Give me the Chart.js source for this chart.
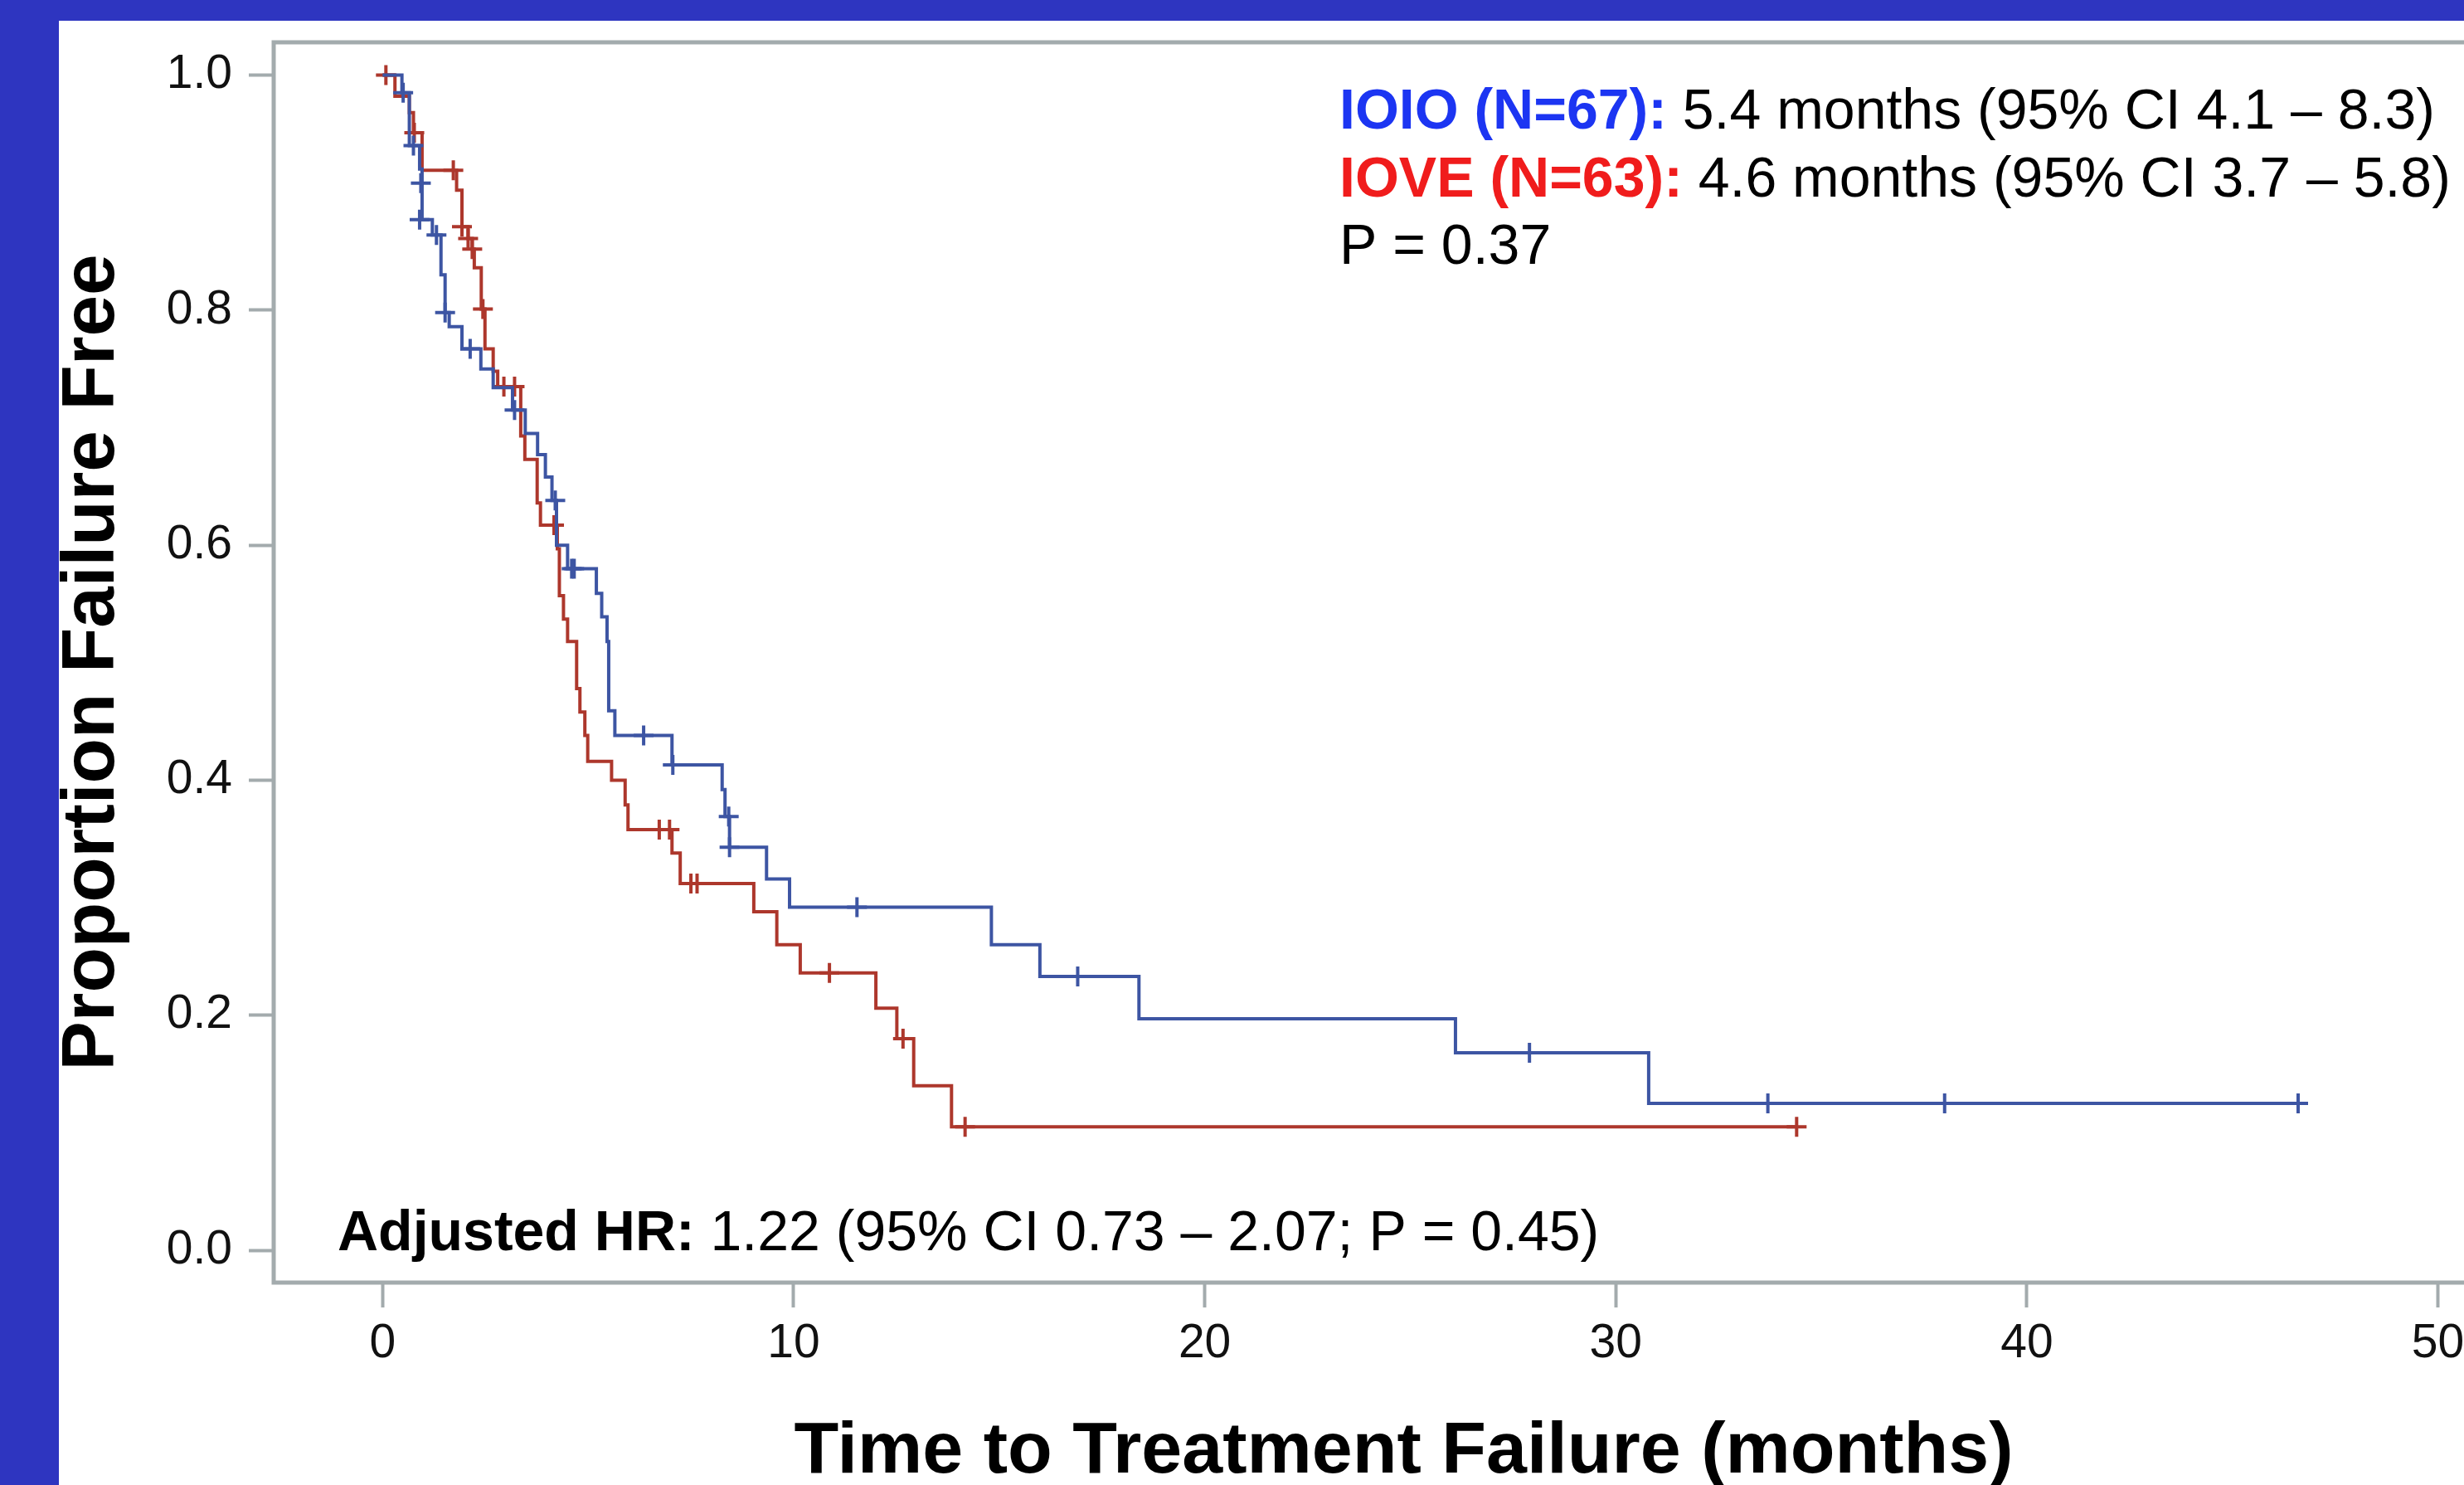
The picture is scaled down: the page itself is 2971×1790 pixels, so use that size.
<!DOCTYPE html>
<html>
<head>
<meta charset="utf-8">
<script src="https://cdn.jsdelivr.net/npm/chart.js@4.4.1/dist/chart.umd.min.js"></script>
<style>
  html, body { margin: 0; padding: 0; width: 2971px; height: 1790px; overflow: hidden; background: #2e35c0; }
  #panel { position: absolute; left: 71px; top: 25px; width: 3000px; height: 1765px; background: #fff; }
  canvas { display: block; }
</style>
</head>
<body>
<div id="panel"><canvas id="km" width="3000" height="1765"></canvas></div>
<script>
// IOIO arm (blue): step times in months and proportion failure free after each step
const ioioTimes = [0, 0.47, 0.65, 0.90, 0.96, 1.21, 1.42, 1.52, 1.62, 1.93, 2.39, 2.69, 3.16, 3.47, 3.77, 3.96, 4.12, 4.23, 4.50, 5.20, 5.33, 5.46, 5.50, 5.65, 7.04, 8.26, 8.33, 8.44, 9.34, 9.90, 14.81, 15.99, 18.40, 26.10, 30.80, 46.60];
const ioioSurv = [1.000, 0.985, 0.940, 0.920, 0.877, 0.864, 0.830, 0.798, 0.786, 0.767, 0.750, 0.734, 0.715, 0.695, 0.677, 0.658, 0.638, 0.600, 0.580, 0.559, 0.539, 0.518, 0.459, 0.438, 0.413, 0.392, 0.369, 0.343, 0.316, 0.292, 0.260, 0.233, 0.197, 0.168, 0.125, 0.125];
// IOIO censored observations
const ioioCensorTimes = [0.50, 0.75, 0.93, 0.90, 1.31, 1.52, 2.13, 3.21, 4.20, 4.60, 4.66, 6.35, 7.06, 8.42, 8.44, 11.54, 16.91, 27.90, 33.70, 38.00, 46.60];
const ioioCensorSurv = [0.985, 0.940, 0.908, 0.877, 0.864, 0.798, 0.767, 0.715, 0.638, 0.580, 0.580, 0.438, 0.413, 0.369, 0.343, 0.292, 0.233, 0.168, 0.125, 0.125, 0.125];

// IOVE arm (red)
const ioveTimes = [0, 0.30, 0.65, 0.75, 0.96, 1.80, 1.93, 2.08, 2.18, 2.23, 2.40, 2.49, 2.69, 2.80, 3.36, 3.46, 3.76, 3.84, 4.25, 4.30, 4.40, 4.50, 4.72, 4.80, 4.92, 4.99, 5.57, 5.90, 5.97, 7.04, 7.24, 9.03, 9.59, 10.16, 12.00, 12.51, 12.92, 13.84, 34.40];
const ioveSurv = [1.000, 0.982, 0.968, 0.951, 0.919, 0.902, 0.871, 0.861, 0.852, 0.836, 0.801, 0.767, 0.748, 0.735, 0.693, 0.673, 0.636, 0.617, 0.597, 0.557, 0.537, 0.518, 0.478, 0.458, 0.438, 0.416, 0.400, 0.379, 0.358, 0.338, 0.312, 0.288, 0.260, 0.236, 0.206, 0.180, 0.140, 0.105, 0.105];
const ioveCensorTimes = [0.08, 0.77, 1.72, 1.93, 2.08, 2.18, 2.44, 2.95, 3.21, 4.17, 6.73, 6.98, 7.50, 7.65, 10.87, 12.66, 14.17, 34.40];
const ioveCensorSurv = [1.000, 0.951, 0.919, 0.871, 0.861, 0.852, 0.801, 0.735, 0.735, 0.617, 0.358, 0.358, 0.312, 0.312, 0.236, 0.180, 0.105, 0.105];

const xTickValues = [0, 10, 20, 30, 40, 50];
const xTickLabels = ['0', '10', '20', '30', '40', '50'];
const yTickValues = [0, 0.2, 0.4, 0.6, 0.8, 1.0];
const yTickLabels = ['0.0', '0.2', '0.4', '0.6', '0.8', '1.0'];

const family = "'Liberation Sans', Arial, Helvetica, sans-serif";
const blueLine = '#3d55a3';
const redLine = '#ad372c';
const axisGrey = '#a3abad';

const pts = (xs, ys) => xs.map((t, i) => ({ x: t, y: ys[i] }));

// box round the plot area
const frame = {
  id: 'frame',
  beforeDatasetsDraw(chart) {
    const { ctx, chartArea: a } = chart;
    ctx.save();
    ctx.strokeStyle = axisGrey;
    ctx.lineWidth = 5;
    ctx.strokeRect(a.left, a.top, a.right - a.left, a.bottom - a.top);
    ctx.restore();
  }
};

// medians, p value and hazard ratio text
const notes = {
  id: 'notes',
  afterDraw(chart) {
    const ctx = chart.ctx;
    ctx.save();
    ctx.textBaseline = 'alphabetic';
    ctx.textAlign = 'left';
    const line = (parts, x, y) => {
      for (const [txt, bold, color] of parts) {
        ctx.font = (bold ? 'bold ' : '') + '68px ' + family;
        ctx.fillStyle = color;
        ctx.fillText(txt, x, y);
        x += ctx.measureText(txt).width;
      }
    };
    line([['IOIO (N=67):', true, '#1c35f2'], [' 5.4 months (95% CI 4.1 \u2013 8.3)', false, '#000']], 1544, 130);
    line([['IOVE (N=63):', true, '#f01c1c'], [' 4.6 months (95% CI 3.7 \u2013 5.8)', false, '#000']], 1544, 212);
    line([['P = 0.37', false, '#000']], 1544, 293);
    line([['Adjusted HR:', true, '#000'], [' 1.22 (95% CI 0.73 \u2013 2.07; P = 0.45)', false, '#000']], 336, 1482);
    ctx.restore();
  }
};

new Chart(document.getElementById('km'), {
  type: 'line',
  data: {
    datasets: [
      { label: 'IOIO', data: pts(ioioTimes, ioioSurv), borderColor: blueLine, borderWidth: 4, stepped: true, pointRadius: 0, fill: false },
      { label: 'IOIO censored', type: 'scatter', data: pts(ioioCensorTimes, ioioCensorSurv), showLine: false,
        pointStyle: 'cross', pointRadius: 12, pointBorderWidth: 4, borderColor: blueLine, backgroundColor: blueLine },
      { label: 'IOVE', data: pts(ioveTimes, ioveSurv), borderColor: redLine, borderWidth: 4, stepped: true, pointRadius: 0, fill: false },
      { label: 'IOVE censored', type: 'scatter', data: pts(ioveCensorTimes, ioveCensorSurv), showLine: false,
        pointStyle: 'cross', pointRadius: 12, pointBorderWidth: 4, borderColor: redLine, backgroundColor: redLine }
    ]
  },
  options: {
    responsive: false,
    animation: false,
    devicePixelRatio: 1,
    layout: { padding: { left: 0, right: 3, top: 26, bottom: 0 } },
    plugins: { legend: { display: false }, tooltip: { enabled: false } },
    scales: {
      x: {
        type: 'linear', min: -2.65, max: 52.33,
        afterBuildTicks: s => { s.ticks = xTickValues.map(v => ({ value: v })); },
        afterFit: s => { s.height = 244; s.paddingLeft = 0; s.paddingRight = 0; },
        grid: { drawOnChartArea: false, drawTicks: true, tickLength: 30, tickColor: axisGrey, tickWidth: 4 },
        border: { display: false },
        ticks: { callback: (v, i) => xTickLabels[i], font: { family, size: 57 }, color: '#111', padding: 10, maxRotation: 0, autoSkip: false },
        title: { display: true, text: 'Time to Treatment Failure (months)', color: '#000',
                 font: { family, size: 88, weight: 'bold', lineHeight: 0.85 }, padding: { top: 0, bottom: 2 } }
      },
      y: {
        type: 'linear', min: -0.0275, max: 1.0279,
        afterBuildTicks: s => { s.ticks = yTickValues.map(v => ({ value: v })); },
        afterFit: s => { s.width = 259; s.paddingTop = 0; s.paddingBottom = 0; },
        grid: { drawOnChartArea: false, drawTicks: true, tickLength: 30, tickColor: axisGrey, tickWidth: 4 },
        border: { display: false },
        ticks: { callback: (v, i) => yTickLabels[i], font: { family, size: 57 }, color: '#111', padding: 20 },
        title: { display: true, text: 'Proportion Failure Free', color: '#000',
                 font: { family, size: 89, weight: 'bold', lineHeight: 0.9 }, padding: { top: 1, bottom: 0 } }
      }
    }
  },
  plugins: [frame, notes]
});
</script>
</body>
</html>
